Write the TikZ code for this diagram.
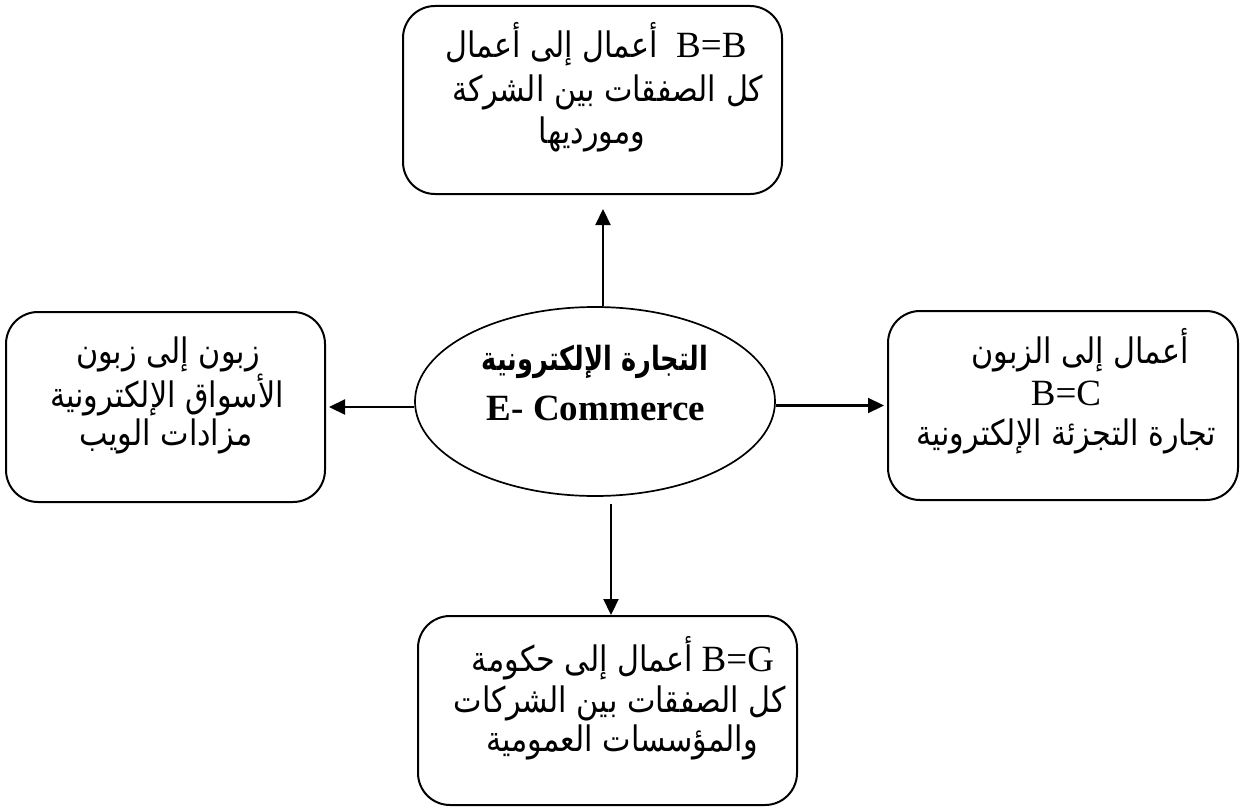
\documentclass[tikz,border=0pt]{standalone}
\usepackage{fontspec}
\setmainfont{Liberation Serif}
\newfontfamily\arabicfont[Script=Arabic,Scale=0.95,FakeStretch=0.86]{DejaVu Sans}
\newfontfamily\arabicboldfont[Script=Arabic,Scale=0.9,FakeStretch=0.77]{DejaVu Sans}
\TeXXeTstate=1
\usetikzlibrary{arrows.meta,shapes.geometric,calc}

\newcommand{\ar}[1]{{\arabicfont\beginR #1\endR}}
\newcommand{\arb}[1]{{\arabicboldfont\bfseries\beginR #1\endR}}

\tikzset{
  box/.style={draw, line width=2pt, rounded corners=32pt, inner sep=0pt},
  hub/.style={draw, ellipse, line width=1.7pt, inner sep=0pt},
  ln/.style={anchor=base, inner sep=0pt, font=\fontsize{37}{42}\selectfont},
  arr/.style={line width=2.2pt, -{Triangle[length=16pt,width=15pt]}}
}

\begin{document}
\begin{tikzpicture}[x=1pt,y=-1pt]
\useasboundingbox (0,0) rectangle (1240,808);

% frames
\node[box, minimum width=379pt, minimum height=188pt] (b2b) at (592.5,100) {};
\node[box, minimum width=319pt, minimum height=190pt] (c2c) at (165.5,407) {};
\node[box, minimum width=350pt, minimum height=189pt] (b2c) at (1063,405.5) {};
\node[box, minimum width=379pt, minimum height=189pt] (b2g) at (607.5,710.5) {};
\node[hub, minimum width=360pt, minimum height=189pt] (ec) at (595,401.5) {};

% centre
\node[ln] (ec1) at (595,370) {\arb{التجارة الإلكترونية}};
\node[ln, font=\fontsize{37}{42}\selectfont\bfseries] (ec2) at (596,420) {E- Commerce};

% business to business
\node[ln] (t1) at (596,58) {\ar{أعمال إلى أعمال}\ \ B=B};
\node[ln] (t2) at (608,102) {\ar{كل الصفقات بين الشركة}};
\node[ln] (t3) at (592,143) {\ar{ومورديها}};

% consumer to consumer
\node[ln] (l1) at (168,363) {\ar{زبون إلى زبون}};
\node[ln] (l2) at (167,407) {\ar{الأسواق الإلكترونية}};
\node[ln] (l3) at (166,445) {\ar{مزادات الويب}};

% business to consumer
\node[ln] (r1) at (1080,363) {\ar{أعمال إلى الزبون}};
\node[ln] (r2) at (1066,405) {B=C};
\node[ln] (r3) at (1066,445) {\ar{تجارة التجزئة الإلكترونية}};

% business to government
\node[ln] (g1) at (623,671) {\ar{أعمال إلى حكومة} B=G};
\node[ln] (g2) at (620,712) {\ar{كل الصفقات بين الشركات}};
\node[ln] (g3) at (622,751) {\ar{والمؤسسات العمومية}};

% connectors
\coordinate (upx) at (603,0);
\coordinate (dnx) at (611,0);
\draw[arr] (ec.north -| upx) -- ([yshift=-14pt]b2b.south -| upx);
\draw[arr] (ec.west |- c2c.east) -- ([xshift=3pt]c2c.east);
\draw[arr] (ec.east |- b2c.west) -- ([xshift=-3pt]b2c.west);
\draw[arr] ([yshift=-7pt]ec.south -| dnx) -- (b2g.north -| dnx);
\end{tikzpicture}
\end{document}
